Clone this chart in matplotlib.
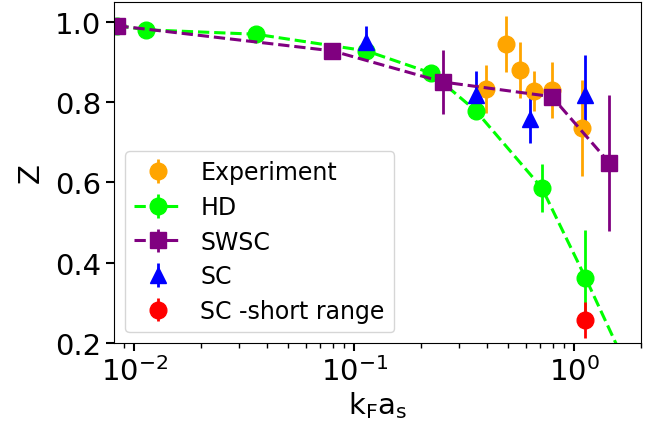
import matplotlib
matplotlib.use("Agg")
import matplotlib.pyplot as plt

# Experiment
exp_x = [0.397, 0.486, 0.567, 0.654, 0.789, 1.08]
exp_z = [0.833, 0.944, 0.880, 0.8275, 0.830, 0.736]
exp_err = [0.06, 0.07, 0.07, 0.05, 0.07, 0.12]

# HD
hd_x = [0.00836, 0.0113, 0.0356, 0.1133, 0.2236, 0.355, 0.711, 1.122, 1.8]
hd_z = [0.990, 0.980, 0.969, 0.9275, 0.872, 0.779, 0.586, 0.3625, 0.12]
hd_err = [0.0, 0.0, 0.0, 0.0, 0.0, 0.0, 0.06, 0.12, 0.0]

# SWSC
swsc_x = [0.00836, 0.0794, 0.2524, 0.789, 1.442]
swsc_z = [0.990, 0.9275, 0.850, 0.8135, 0.6485]
swsc_err = [0.0, 0.01, 0.08, 0.01, 0.17]

# SC
sc_x = [0.1133, 0.355, 0.631, 1.122]
sc_z = [0.950, 0.818, 0.759, 0.817]
sc_err = [0.04, 0.06, 0.06, 0.10]

# SC short range
scs_x = [1.122]
scs_z = [0.257]
scs_err = [0.045]

fig = plt.figure(figsize=(6.51, 4.27), dpi=100)
ax = fig.add_axes([0.1756, 0.1944, 0.8086, 0.7993])

ax.errorbar(exp_x, exp_z, yerr=exp_err, fmt='o', color='orange', ms=12,
            elinewidth=2, capsize=0, label='Experiment')
ax.errorbar(hd_x, hd_z, yerr=hd_err, fmt='o--', color='lime', ms=12,
            lw=2.2, elinewidth=2, capsize=0, label='HD')
ax.errorbar(swsc_x, swsc_z, yerr=swsc_err, fmt='s--', color='purple', ms=12,
            lw=2.2, elinewidth=2, capsize=0, label='SWSC')
ax.errorbar(sc_x, sc_z, yerr=sc_err, fmt='^', color='blue', ms=12,
            elinewidth=2, capsize=0, label='SC')
ax.errorbar(scs_x, scs_z, yerr=scs_err, fmt='o', color='red', ms=12,
            elinewidth=2, capsize=0, label='SC -short range')

ax.set_xscale('log')
ax.set_xlim(0.0081, 2.0)
ax.set_ylim(0.2, 1.05)
ax.set_yticks([0.2, 0.4, 0.6, 0.8, 1.0])
ax.tick_params(axis='both', which='major', labelsize=21, length=6, width=1.5)
ax.tick_params(axis='x', which='minor', length=3.5, width=1)

ax.set_xlabel(r'$\mathregular{k_Fa_s}$', fontsize=21, labelpad=2)
ax.set_ylabel('Z', fontsize=21, labelpad=7)

ax.legend(loc='lower left', fontsize=17, labelspacing=0.45, borderaxespad=0.45)

fig.savefig('out.png', dpi=100)
